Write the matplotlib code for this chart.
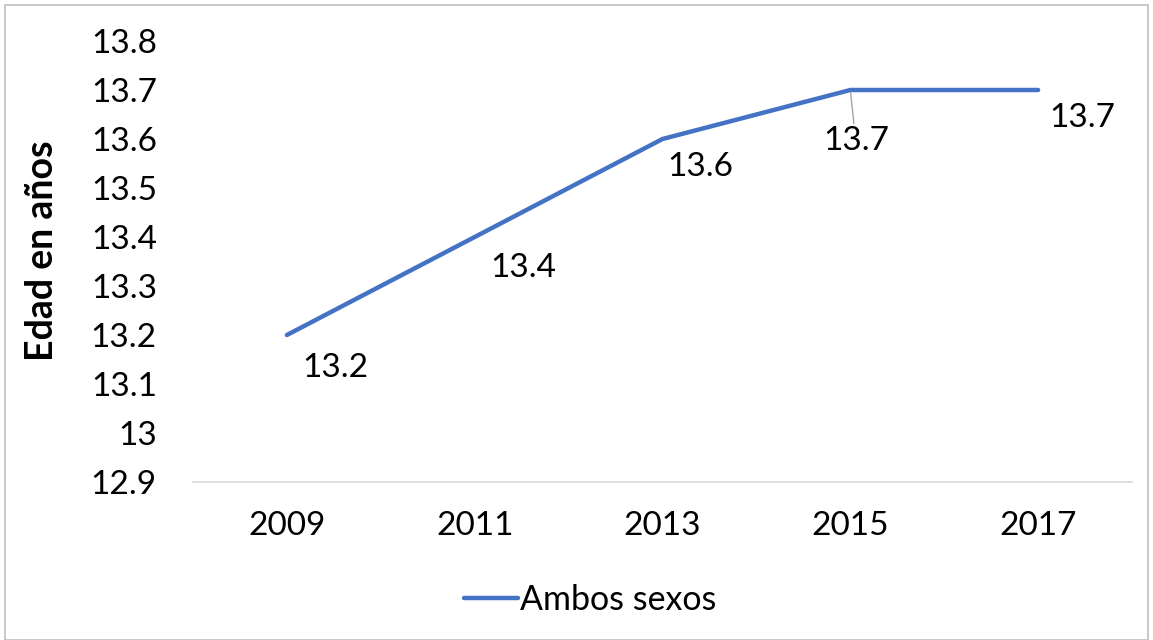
import matplotlib.pyplot as plt
from matplotlib.patches import Rectangle

years = ["2009", "2011", "2013", "2015", "2017"]
edad = [13.2, 13.4, 13.6, 13.7, 13.7]
y_ticks = [12.9, 13.0, 13.1, 13.2, 13.3, 13.4, 13.5, 13.6, 13.7, 13.8]
y_tick_labels = ["12.9", "13", "13.1", "13.2", "13.3", "13.4", "13.5", "13.6", "13.7", "13.8"]

# label offsets in points (Excel data labels were dragged by hand)
label_offsets = [(35, -24), (35, -22), (27, -20), (4, -37), (32, -20)]

plt.rcParams['font.family'] = ['Lato', 'DejaVu Sans']

fig = plt.figure(figsize=(11.53, 6.40), dpi=100)
ax = fig.add_axes([193 / 1153, 158 / 640, 939 / 1153, 441 / 640])

x = list(range(len(years)))
line, = ax.plot(x, edad, color='#4472C4', lw=3.2, solid_capstyle='round', label='Ambos sexos')

for i, v in enumerate(edad):
    dx, dy = label_offsets[i]
    props = None
    if i == 3:
        props = dict(arrowstyle='-', color='#A6A6A6', lw=1, shrinkA=0, shrinkB=2)
    ax.annotate(f"{v:.1f}", (i, v), xytext=(dx, dy), textcoords='offset points',
                ha='center', va='center', fontsize=24, color='black', arrowprops=props)

ax.set_xlim(-0.5, len(years) - 0.5)
ax.set_ylim(12.9, 13.8)
ax.set_xticks(x)
ax.set_xticklabels(years)
ax.set_yticks(y_ticks)
ax.set_yticklabels(y_tick_labels)
ax.tick_params(axis='both', length=0, labelsize=24)
ax.tick_params(axis='y', pad=26)
ax.tick_params(axis='x', pad=21)

for s in ['top', 'right', 'left']:
    ax.spines[s].set_visible(False)
ax.spines['bottom'].set_color('#D9D9D9')
ax.spines['bottom'].set_linewidth(1.2)

fig.text(42 / 1153, 1 - 251 / 640, "Edad en años", rotation=90, ha='center', va='center',
         fontsize=27, fontweight='bold')

fig.legend(handles=[line], loc='center', bbox_to_anchor=(590 / 1153, 1 - 600 / 640),
           frameon=False, fontsize=24.5, handlelength=1.6, handletextpad=0.05)

fig.patches.append(Rectangle((5 / 1153, 0), 1143 / 1153, 635 / 640, transform=fig.transFigure,
                             fill=False, edgecolor='#BFBFBF', lw=1.2))

fig.savefig('out.png', dpi=100)
